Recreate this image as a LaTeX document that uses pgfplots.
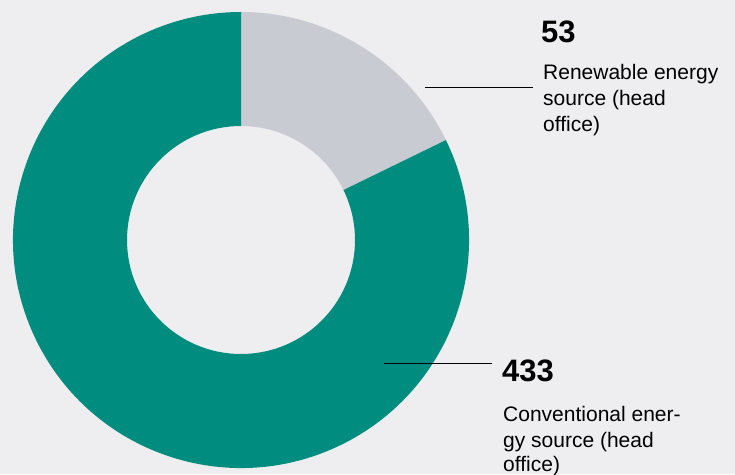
\documentclass[border=0pt]{standalone}
\usepackage{pgfplots}
\pgfplotsset{compat=1.18}
\usepackage{fontspec}
\setmainfont{Liberation Sans}
\definecolor{bg}{HTML}{EEEEF0}
\definecolor{teal2}{HTML}{008C7E}
\definecolor{lgray}{HTML}{C9CBD2}
% values: renewable 53, conventional 433
% slice boundary angle (degrees, counter-clockwise from 3 o'clock)
\def\splitangle{26}
\begin{document}
\begin{tikzpicture}
\begin{axis}[
  scale only axis, width=735pt, height=474pt,
  xmin=0, xmax=735, ymin=0, ymax=474,
  hide axis, clip=false,
]
\addplot[fill=bg, draw=none] coordinates {(0,0) (735,0) (735,474) (0,474)} -- cycle;
% renewable (53)
\fill[lgray] (axis cs:241,234) ++(90:228pt) arc[start angle=90, end angle=\splitangle, radius=228pt]
  -- ++(\splitangle+180:114pt) arc[start angle=\splitangle, end angle=90, radius=114pt] -- cycle;
% conventional (433)
\fill[teal2] (axis cs:241,234) ++(\splitangle:228pt) arc[start angle=\splitangle, end angle=-270, radius=228pt]
  -- ++(270:114pt) arc[start angle=-270, end angle=\splitangle, radius=114pt] -- cycle;
% leader lines
\draw[black, line width=1pt] (axis cs:425,386) -- (axis cs:533,386);
\draw[black, line width=1pt] (axis cs:384,111) -- (axis cs:492,111);
% labels
\node[anchor=base west, inner sep=0, font=\fontsize{31}{31}\selectfont\bfseries] at (axis cs:541,431) {53};
\node[anchor=base west, inner sep=0, font=\fontsize{21}{21}\selectfont] at (axis cs:543,394) {Renewable energy};
\node[anchor=base west, inner sep=0, font=\fontsize{21}{21}\selectfont] at (axis cs:543,368) {source (head};
\node[anchor=base west, inner sep=0, font=\fontsize{21}{21}\selectfont] at (axis cs:543,342) {office)};
\node[anchor=base west, inner sep=0, font=\fontsize{31}{31}\selectfont\bfseries] at (axis cs:502,93) {433};
\node[anchor=base west, inner sep=0, font=\fontsize{21}{21}\selectfont] at (axis cs:503,53) {Conventional ener-};
\node[anchor=base west, inner sep=0, font=\fontsize{21}{21}\selectfont] at (axis cs:503,27) {gy source (head};
\node[anchor=base west, inner sep=0, font=\fontsize{21}{21}\selectfont] at (axis cs:503,3) {office)};
\end{axis}
\pgfresetboundingbox
\useasboundingbox (0,0) rectangle (735pt,474pt);
\end{tikzpicture}
\end{document}
